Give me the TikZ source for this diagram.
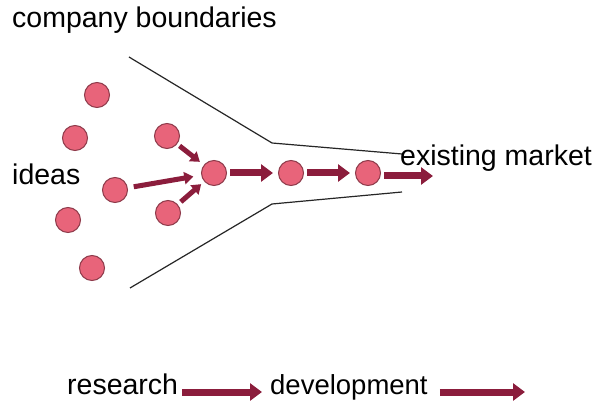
\documentclass[tikz,border=0pt]{standalone}
\usepackage{fontspec}
\setmainfont{Liberation Sans}
\usetikzlibrary{arrows.meta}
\definecolor{idea}{HTML}{E8647A}
\definecolor{ideaedge}{HTML}{8E3A4A}
\definecolor{flow}{HTML}{8B1D3C}
\tikzset{
  idea/.style={circle, fill=idea, draw=ideaedge, line width=1pt, minimum size=25pt, inner sep=0pt},
  flowarrow/.style={draw=flow, line width=7pt, -{Triangle[length=12pt,width=17pt]}, shorten <=3pt, shorten >=5pt},
  label/.style={font=\fontsize{28.5}{34}\selectfont, inner sep=0pt, anchor=base west},
  boundary/.style={draw=black!85, line width=1.2pt}
}
\begin{document}
\begin{tikzpicture}[x=1pt,y=-1pt]
  \useasboundingbox[fill=white] (0,0) rectangle (597,403);

  % company boundary funnel
  \coordinate (t0) at (129,57);
  \coordinate (t1) at (272,143);
  \coordinate (t2) at (402,154);
  \coordinate (b0) at (130,288);
  \coordinate (b1) at (272,204);
  \coordinate (b2) at (402,192);
  \draw[boundary] (t0) -- (t1) -- (t2);
  \draw[boundary] (b0) -- (b1) -- (b2);

  % labels
  \node[label] (company) at (12,28) {company boundaries};
  \node[label] (ideas) at (12,185) {ideas};
  \node[label] (market) at (400,166) {existing market};
  \node[label] (research) at (67,394) {research};
  \node[label, font=\fontsize{27.5}{33}\selectfont] (development) at (270,394) {development};

  % ideas
  \node[idea] (i1) at (97,95) {};
  \node[idea] (i2) at (75,138) {};
  \node[idea] (i3) at (115,190) {};
  \node[idea] (i4) at (68,220) {};
  \node[idea] (i5) at (92,268) {};
  \node[idea] (i6) at (167,136) {};
  \node[idea] (i7) at (168,213) {};
  \node[idea] (p1) at (214,173) {};
  \node[idea] (p2) at (291,173) {};
  \node[idea] (p3) at (368,173) {};
  \coordinate (out) at (433,176);

  % flow into and through the company
  \draw[flowarrow, line width=5pt, -{Triangle[length=9pt,width=12pt]}] (i6) -- (p1);
  \draw[flowarrow, line width=5pt, -{Triangle[length=9pt,width=12pt]}, shorten <=6pt, shorten >=8pt] (i3) -- (p1);
  \draw[flowarrow, line width=5pt, -{Triangle[length=9pt,width=12pt]}, shorten <=4pt, shorten >=4pt] (i7) -- (p1);
  \draw[flowarrow] (p1) -- (p2);
  \draw[flowarrow] (p2) -- (p3);
  \draw[flowarrow, shorten >=0pt] (p3.east |- out) -- (out);

  % legend
  \coordinate (end) at (525,392);
  \draw[flowarrow, shorten <=4pt, shorten >=8pt] (research.east |- end) -- (development.west |- end);
  \draw[flowarrow, shorten <=12pt, shorten >=0pt] (development.east |- end) -- (end);
\end{tikzpicture}
\end{document}
